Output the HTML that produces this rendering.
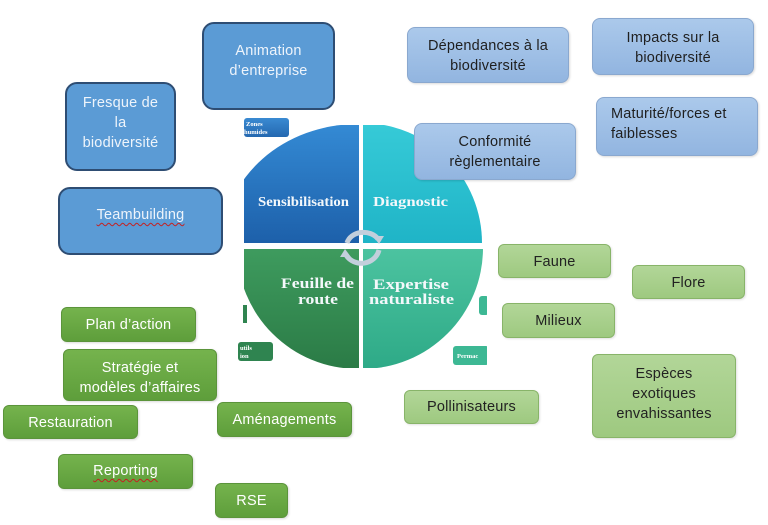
<!DOCTYPE html>
<html><head><meta charset="utf-8">
<style>
html,body{margin:0;padding:0;background:#fff;}
body{width:768px;height:525px;position:relative;overflow:hidden;font-family:"Liberation Sans",sans-serif;}
.b{position:absolute;box-sizing:border-box;text-align:center;font-size:14.5px;line-height:20px;letter-spacing:0.2px;}
.db{background:#5b9bd5;border:2px solid #2e4d73;border-radius:12px;color:#eef4fb;}
.lb{background:linear-gradient(#abc9eb,#92b5e0);border:1px solid #8aa8cf;border-radius:8px;color:#1f1f1f;box-shadow:1px 1px 2px rgba(0,0,0,.15);}
.g{background:linear-gradient(#75b34d,#5e9e3b);border:1px solid #5b943b;border-radius:6px;color:#fff;box-shadow:1px 1px 2px rgba(0,0,0,.15);}
.lg{background:linear-gradient(#b2d698,#9ec980);border:1px solid #88b469;border-radius:6px;color:#222;box-shadow:1px 1px 2px rgba(0,0,0,.12);}
.sp{text-decoration:underline wavy #c42020;text-decoration-thickness:1px;text-underline-offset:3px;}
svg{position:absolute;left:0;top:0;}
</style></head><body>

<svg width="768" height="525" viewBox="0 0 768 525">
<defs>
<clipPath id="cb"><ellipse cx="358" cy="243" rx="135" ry="119"/></clipPath>
<clipPath id="cc"><circle cx="362" cy="243" r="120"/></clipPath>
<clipPath id="cg"><circle cx="358" cy="248" r="121"/></clipPath>
<clipPath id="ct"><circle cx="362" cy="248" r="121"/></clipPath>
<linearGradient id="gb" x1="0" y1="0" x2="0" y2="1"><stop offset="0" stop-color="#348ad4"/><stop offset="1" stop-color="#1d60aa"/></linearGradient>
<linearGradient id="gc" x1="0" y1="0" x2="0" y2="1"><stop offset="0" stop-color="#36cad7"/><stop offset="1" stop-color="#1fb4c7"/></linearGradient>
<linearGradient id="gg" x1="0" y1="0" x2="0" y2="1"><stop offset="0" stop-color="#3e9b5e"/><stop offset="1" stop-color="#2b7b46"/></linearGradient>
<linearGradient id="gt" x1="0" y1="0" x2="0" y2="1"><stop offset="0" stop-color="#4cc3a0"/><stop offset="1" stop-color="#2eaa87"/></linearGradient>
<linearGradient id="gz" x1="0" y1="0" x2="0" y2="1"><stop offset="0" stop-color="#3a8ad2"/><stop offset="1" stop-color="#2468b0"/></linearGradient>
</defs>
<!-- small boxes behind -->
<rect x="244" y="118" width="45" height="19" rx="3" fill="url(#gz)"/>
<text x="246" y="126" font-family="Liberation Serif,serif" font-size="6.5" font-weight="bold" fill="#fff">Zones</text>
<text x="244" y="134" font-family="Liberation Serif,serif" font-size="6.5" font-weight="bold" fill="#fff">humides</text>
<rect x="243" y="305" width="4" height="18" fill="#2f8450"/>
<rect x="238" y="342" width="35" height="19" rx="3" fill="#2f8450"/>
<text x="240" y="350" font-family="Liberation Serif,serif" font-size="6.5" font-weight="bold" fill="#fff">utils</text>
<text x="240" y="358" font-family="Liberation Serif,serif" font-size="6.5" font-weight="bold" fill="#fff">ion</text>
<rect x="479" y="296" width="10" height="19" rx="3" fill="#3db894"/>
<rect x="453" y="346" width="36" height="19" rx="3" fill="#3db894"/>
<text x="457" y="358" font-family="Liberation Serif,serif" font-size="6.5" font-weight="bold" fill="#fff">Permac</text>
<rect x="487" y="290" width="10" height="80" fill="#fff"/>

<rect x="244" y="125" width="115" height="118" fill="url(#gb)" clip-path="url(#cb)"/>
<rect x="363" y="125" width="120" height="118" fill="url(#gc)" clip-path="url(#cc)"/>
<rect x="244" y="249" width="115" height="119" fill="url(#gg)" clip-path="url(#cg)"/>
<rect x="363" y="249" width="120" height="119" fill="url(#gt)" clip-path="url(#ct)"/>

<g font-family="Liberation Serif,serif" font-weight="bold" fill="#f4f8fb">
<text x="258" y="206" font-size="14" textLength="91" lengthAdjust="spacingAndGlyphs">Sensibilisation</text>
<text x="373" y="206" font-size="14" textLength="75" lengthAdjust="spacingAndGlyphs">Diagnostic</text>
<text x="281" y="288" font-size="15" textLength="73" lengthAdjust="spacingAndGlyphs">Feuille de</text>
<text x="298" y="304" font-size="15" textLength="40" lengthAdjust="spacingAndGlyphs">route</text>
<text x="373" y="289" font-size="14.5" textLength="76" lengthAdjust="spacingAndGlyphs">Expertise</text>
<text x="369" y="304" font-size="14.5" textLength="85" lengthAdjust="spacingAndGlyphs">naturaliste</text>
</g>
<!-- circular arrows -->
<path d="M347 243 A17 14 0 0 1 378 239" fill="none" stroke="#c3cfdc" stroke-width="5"/>
<path d="M373 236 L384 236 L379 244 Z" fill="#c3cfdc"/>
<path d="M379 250 A18 17 0 0 1 346 255" fill="none" stroke="#c3cfdc" stroke-width="5"/>
<path d="M340 257 L351 257 L345 249 Z" fill="#c3cfdc"/>
</svg>

<div class="b db" style="left:202px;top:22px;width:133px;height:88px;padding-top:17px;">Animation<br>d’entreprise</div>
<div class="b db" style="left:65px;top:82px;width:111px;height:89px;padding-top:9px;">Fresque de<br>la<br>biodiversité</div>
<div class="b db" style="left:58px;top:187px;width:165px;height:68px;padding-top:16px;"><span class="sp">Teambuilding</span></div>

<div class="b lb" style="left:407px;top:27px;width:162px;height:56px;padding-top:8px;">Dépendances à la<br>biodiversité</div>
<div class="b lb" style="left:592px;top:18px;width:162px;height:57px;padding-top:9px;">Impacts sur la<br>biodiversité</div>
<div class="b lb" style="left:596px;top:97px;width:162px;height:59px;padding-top:6px;padding-left:14px;text-align:left;">Maturité/forces et<br>faiblesses</div>
<div class="b lb" style="left:414px;top:123px;width:162px;height:57px;padding-top:8px;">Conformité<br>règlementaire</div>

<div class="b lg" style="left:498px;top:244px;width:113px;height:34px;padding-top:7px;">Faune</div>
<div class="b lg" style="left:632px;top:265px;width:113px;height:34px;padding-top:7px;">Flore</div>
<div class="b lg" style="left:502px;top:303px;width:113px;height:35px;padding-top:7px;">Milieux</div>
<div class="b lg" style="left:592px;top:354px;width:144px;height:84px;padding-top:9px;">Espèces<br>exotiques<br>envahissantes</div>
<div class="b lg" style="left:404px;top:390px;width:135px;height:34px;padding-top:6px;">Pollinisateurs</div>

<div class="b g" style="left:61px;top:307px;width:135px;height:35px;padding-top:7px;">Plan d’action</div>
<div class="b g" style="left:63px;top:349px;width:154px;height:52px;padding-top:8px;">Stratégie et<br>modèles d’affaires</div>
<div class="b g" style="left:3px;top:405px;width:135px;height:34px;padding-top:7px;">Restauration</div>
<div class="b g" style="left:217px;top:402px;width:135px;height:35px;padding-top:7px;">Aménagements</div>
<div class="b g" style="left:58px;top:454px;width:135px;height:35px;padding-top:6px;"><span class="sp">Reporting</span></div>
<div class="b g" style="left:215px;top:483px;width:73px;height:35px;padding-top:7px;">RSE</div>

</body></html>
